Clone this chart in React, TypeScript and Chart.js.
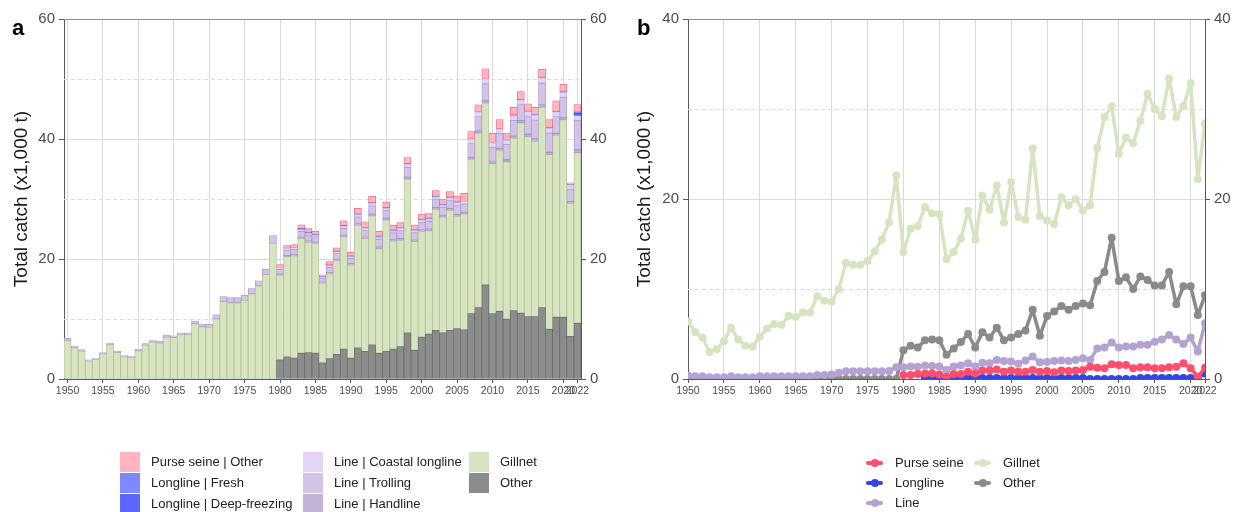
import React, { useEffect, useRef } from "react";
import { Chart, registerables } from "chart.js";

Chart.register(...registerables);

const FONT = "'Liberation Sans', Arial, Helvetica, sans-serif";
const GRID = "#dadada";
const AXIS = "#5a5a5a";
const TICK_TEXT = "#4d4d4d";

const years = [
  1950, 1951, 1952, 1953, 1954, 1955, 1956, 1957, 1958, 1959,
  1960, 1961, 1962, 1963, 1964, 1965, 1966, 1967, 1968, 1969,
  1970, 1971, 1972, 1973, 1974, 1975, 1976, 1977, 1978, 1979,
  1980, 1981, 1982, 1983, 1984, 1985, 1986, 1987, 1988, 1989,
  1990, 1991, 1992, 1993, 1994, 1995, 1996, 1997, 1998, 1999,
  2000, 2001, 2002, 2003, 2004, 2005, 2006, 2007, 2008, 2009,
  2010, 2011, 2012, 2013, 2014, 2015, 2016, 2017, 2018, 2019,
  2020, 2021, 2022,
];

const xTickYears = [1950, 1955, 1960, 1965, 1970, 1975, 1980, 1985, 1990, 1995, 2000, 2005, 2010, 2015, 2020, 2022];
const yTicksA = [0, 20, 40, 60];
const yMinorA = [10, 30, 50];
const yTicksB = [0, 20, 40];
const yMinorB = [10, 30];

const gillnet = [
  6.4, 5.2, 4.6, 3.0, 3.3, 4.2, 5.7, 4.4, 3.7, 3.6,
  4.7, 5.6, 6.1, 6.0, 7.0, 6.9, 7.4, 7.4, 9.2, 8.7,
  8.6, 10.0, 12.9, 12.7, 12.7, 13.1, 14.2, 15.5, 17.4, 22.6,
  14.1, 16.7, 17.0, 19.1, 18.4, 18.3, 13.3, 14.1, 15.6, 18.7,
  15.5, 20.4, 18.8, 21.5, 17.4, 21.9, 18.0, 17.7, 25.6, 18.1,
  17.6, 17.2, 20.2, 19.3, 20.0, 18.7, 19.3, 25.7, 29.1, 30.3,
  25.0, 26.8, 26.2, 28.7, 31.7, 30.0, 29.2, 33.4, 29.1, 30.3,
  32.9, 22.2, 28.4,
];

const other = [
  0, 0, 0, 0, 0, 0, 0, 0, 0, 0,
  0, 0, 0, 0, 0, 0, 0, 0, 0, 0,
  0, 0, 0, 0, 0, 0, 0, 0, 0, 0,
  3.2, 3.7, 3.5, 4.3, 4.4, 4.3, 2.7, 3.4, 4.1, 5.0,
  3.5, 5.2, 4.6, 5.7, 4.3, 4.6, 5.0, 5.4, 7.7, 4.8,
  7.0, 7.5, 8.1, 7.7, 8.1, 8.4, 8.2, 10.9, 11.9, 15.7,
  10.9, 11.3, 10.0, 11.4, 11.0, 10.4, 10.4, 11.9, 8.3, 10.3,
  10.3, 7.1, 9.3,
];

const lineHandline = [
  0, 0, 0, 0, 0, 0, 0, 0, 0, 0,
  0, 0, 0, 0, 0, 0, 0, 0, 0, 0,
  0, 0, 0, 0, 0, 0, 0, 0, 0, 0,
  0.2, 0.2, 0.2, 0.25, 0.2, 0.2, 0.15, 0.2, 0.2, 0.25,
  0.2, 0.25, 0.25, 0.3, 0.3, 0.3, 0.25, 0.3, 0.35, 0.25,
  0.25, 0.3, 0.3, 0.3, 0.3, 0.3, 0.3, 0.35, 0.35, 0.4,
  0.35, 0.35, 0.35, 0.4, 0.4, 0.4, 0.45, 0.45, 0.4, 0.35,
  0.4, 0.3, 0.5,
];

const lineTrolling = [
  0.4, 0.3, 0.3, 0.2, 0.2, 0.2, 0.3, 0.2, 0.2, 0.2,
  0.3, 0.3, 0.3, 0.3, 0.3, 0.3, 0.3, 0.3, 0.45, 0.45,
  0.5, 0.7, 0.85, 0.85, 0.85, 0.85, 0.85, 0.85, 0.9, 1.3,
  0.8, 0.9, 0.9, 0.95, 0.95, 0.9, 0.65, 0.9, 1.0, 1.15,
  0.9, 1.15, 1.1, 1.35, 1.3, 1.25, 1.1, 1.35, 1.65, 1.2,
  1.25, 1.3, 1.3, 1.3, 1.35, 1.5, 1.35, 2.3, 2.4, 2.8,
  2.4, 2.5, 2.55, 2.6, 2.65, 2.95, 3.1, 3.55, 3.2, 2.8,
  3.35, 1.95, 4.85,
];

const lineCoastal = [
  0, 0, 0, 0, 0, 0, 0, 0, 0, 0,
  0, 0, 0, 0, 0, 0, 0, 0, 0, 0,
  0, 0, 0, 0, 0, 0, 0, 0, 0, 0,
  0.3, 0.3, 0.25, 0.3, 0.3, 0.3, 0.2, 0.3, 0.3, 0.35,
  0.3, 0.4, 0.4, 0.45, 0.4, 0.4, 0.35, 0.4, 0.5, 0.4,
  0.4, 0.4, 0.45, 0.4, 0.45, 0.5, 0.45, 0.75, 0.75, 0.85,
  0.75, 0.75, 0.7, 0.8, 0.75, 0.8, 0.85, 0.9, 0.8, 0.75,
  0.85, 0.8, 0.85,
];

const longlineDeep = [
  null, null, null, null, null, null, null, null, null, null,
  null, null, null, null, null, null, null, null, null, null,
  null, null, null, null, null, null, null, null, null, null,
  null, null, null, 0, 0, 0, 0, 0, 0, 0,
  0, 0, 0, 0, 0, 0, 0, 0, 0, 0,
  0, 0, 0, 0, 0, 0, 0, 0, 0, 0,
  0, 0, 0, 0, 0, 0, 0, 0, 0, 0,
  0, 0, 0.4,
];

const longlineFresh = [
  null, null, null, null, null, null, null, null, null, null,
  null, null, null, null, null, null, null, null, null, null,
  null, null, null, null, null, null, null, null, null, null,
  null, null, null, 0.2, 0.2, 0.1, 0.1, 0.1, 0.1, 0.1,
  0.1, 0.1, 0.1, 0.1, 0.1, 0.1, 0.1, 0.1, 0.1, 0.1,
  0.1, 0.1, 0.1, 0.1, 0.1, 0.1, 0, 0, 0, 0,
  0, 0, 0, 0.1, 0.1, 0.1, 0.1, 0.1, 0.1, 0.1,
  0.1, 0.1, 0.2,
];

const purseSeine = [
  null, null, null, null, null, null, null, null, null, null,
  null, null, null, null, null, null, null, null, null, null,
  null, null, null, null, null, null, null, null, null, null,
  0.45, 0.45, 0.55, 0.6, 0.6, 0.5, 0.25, 0.55, 0.55, 0.8,
  0.6, 0.95, 0.95, 1.05, 0.8, 0.95, 0.8, 0.8, 1.0, 0.8,
  0.9, 0.75, 0.95, 0.9, 0.95, 1.0, 1.35, 1.25, 1.2, 1.65,
  1.55, 1.55, 1.2, 1.3, 1.3, 1.2, 1.2, 1.3, 1.35, 1.75,
  1.2, 0.25, 1.25,
];

const stackColors = {
  purse: { fill: "#ffb5bf", border: "#f0667f" },
  fresh: { fill: "#8088ff", border: "#5a64ee" },
  deep: { fill: "#5b68ff", border: "#3a46dd" },
  coastal: { fill: "#e3d5f5", border: "#c6b3e2" },
  trolling: { fill: "#d3c4e7", border: "#ab98cc" },
  handline: { fill: "#c3b3d9", border: "#9f8cc0" },
  gillnet: { fill: "#d7e4c0", border: "#b0bd9c" },
  other: { fill: "#8c8c8c", border: "#6c6c6c" },
};

const lineColors = {
  purse: "#ff4d6d",
  longline: "#3347e0",
  line: "#b3a3d3",
  gillnet: "#d7e4c1",
  other: "#8a8a8a",
};

const nz = (a: (number | null)[]) => a.map((v) => (v === 0 || v === null ? null : v));
const sumSeries = (...arrs: (number | null)[][]) =>
  arrs[0].map((_, i) => {
    let s = 0;
    let any = false;
    arrs.forEach((a) => {
      if (a[i] !== null && a[i] !== undefined) {
        s += a[i] as number;
        any = true;
      }
    });
    return any ? Math.round(s * 100) / 100 : null;
  });

const decoPlugin = {
  id: "deco",
  beforeDatasetsDraw(chart: any, _args: any, opts: any) {
    const { ctx, chartArea } = chart;
    const y = chart.scales.y;
    ctx.save();
    ctx.strokeStyle = GRID;
    ctx.lineWidth = 1;
    ctx.setLineDash([4, 3]);
    (opts.minor || []).forEach((v: number) => {
      const py = Math.round(y.getPixelForValue(v)) + 0.5;
      ctx.beginPath();
      ctx.moveTo(chartArea.left, py);
      ctx.lineTo(chartArea.right, py);
      ctx.stroke();
    });
    ctx.restore();
  },
  afterDatasetsDraw(chart: any) {
    const { ctx, chartArea } = chart;
    ctx.save();
    ctx.strokeStyle = "#8f8f8f";
    ctx.lineWidth = 1;
    ctx.beginPath();
    ctx.moveTo(chartArea.left, Math.round(chartArea.top) + 0.5);
    ctx.lineTo(chartArea.right, Math.round(chartArea.top) + 0.5);
    ctx.stroke();
    ctx.restore();
  },
};

const tickSet = new Set(xTickYears);

function yAxes(max: number, leftWidth: number, rightWidth: number, titlePad: number, ticks: number[], stacked: boolean) {
  const tickFont = { family: FONT, size: 15 };
  return {
    y: {
      type: "linear",
      position: "left",
      stacked,
      min: 0,
      max,
      afterBuildTicks: (s: any) => {
        s.ticks = ticks.map((v) => ({ value: v }));
      },
      ticks: { color: TICK_TEXT, font: tickFont, padding: 4 },
      grid: { color: GRID, lineWidth: 1, tickColor: AXIS, tickLength: 5 },
      border: { color: AXIS, width: 1 },
      title: {
        display: true,
        text: "Total catch (x1,000 t)",
        color: "#1a1a1a",
        font: { family: FONT, size: 19 },
        padding: { top: titlePad, bottom: 0 },
      },
      afterFit: (s: any) => {
        s.width = leftWidth;
      },
    },
    y2: {
      type: "linear",
      position: "right",
      min: 0,
      max,
      afterBuildTicks: (s: any) => {
        s.ticks = ticks.map((v) => ({ value: v }));
      },
      ticks: { color: TICK_TEXT, font: tickFont, padding: 4 },
      grid: { drawOnChartArea: false, tickColor: AXIS, tickLength: 5 },
      border: { color: AXIS, width: 1 },
      afterFit: (s: any) => {
        s.width = rightWidth;
      },
    },
  };
}

const xTickFont = { family: FONT, size: 10.5 };

export default function App() {
  const aRef = useRef<HTMLCanvasElement>(null);
  const bRef = useRef<HTMLCanvasElement>(null);

  useEffect(() => {
    const labels = years.map(String);
    const barDs = (label: string, data: (number | null)[], c: { fill: string; border: string }) => ({
      label,
      data: nz(data),
      backgroundColor: c.fill,
      borderColor: c.border,
      borderWidth: 0.8,
      borderSkipped: false,
      barPercentage: 1,
      categoryPercentage: 1,
    });

    const chartA = new Chart(aRef.current as HTMLCanvasElement, {
      type: "bar",
      data: {
        labels,
        datasets: [
          barDs("Other", other, stackColors.other),
          barDs("Gillnet", gillnet, stackColors.gillnet),
          barDs("Line | Handline", lineHandline, stackColors.handline),
          barDs("Line | Trolling", lineTrolling, stackColors.trolling),
          barDs("Line | Coastal longline", lineCoastal, stackColors.coastal),
          barDs("Longline | Deep-freezing", longlineDeep, stackColors.deep),
          barDs("Longline | Fresh", longlineFresh, stackColors.fresh),
          barDs("Purse seine | Other", purseSeine, stackColors.purse),
        ],
      } as any,
      options: {
        animation: false,
        responsive: false,
        maintainAspectRatio: false,
        layout: { padding: { top: 19, left: 0, right: 0, bottom: 0 } },
        plugins: {
          legend: { display: false },
          tooltip: { enabled: false },
          deco: { minor: yMinorA },
        } as any,
        scales: {
          x: {
            type: "category",
            stacked: true,
            offset: true,
            grid: {
              offset: false,
              lineWidth: 1,
              color: (c: any) => (tickSet.has(years[c.index]) ? GRID : "rgba(0,0,0,0)"),
              tickColor: (c: any) => (tickSet.has(years[c.index]) ? AXIS : "rgba(0,0,0,0)"),
              tickLength: 4,
            },
            border: { color: AXIS, width: 1 },
            ticks: {
              autoSkip: false,
              maxRotation: 0,
              minRotation: 0,
              padding: 2,
              color: TICK_TEXT,
              font: xTickFont,
              callback: (_v: any, i: number) => (tickSet.has(years[i]) ? String(years[i]) : ""),
            },
            afterFit: (s: any) => {
              s.height = 133;
            },
          },
          ...yAxes(60, 64, 35, 10.5, yTicksA, true),
        } as any,
      },
      plugins: [decoPlugin],
    } as any);

    const pts = (arr: (number | null)[]) => years.map((yr, i) => ({ x: yr, y: arr[i] }));
    const lineDs = (label: string, data: (number | null)[], color: string) => ({
      label,
      data: pts(data),
      borderColor: color,
      backgroundColor: color,
      borderWidth: 3.5,
      pointRadius: 4,
      pointBorderWidth: 0,
      pointBackgroundColor: color,
      borderJoinStyle: "round",
      borderCapStyle: "round",
      spanGaps: false,
      tension: 0,
    });

    const lineSum = sumSeries(lineHandline, lineTrolling, lineCoastal);
    const longlineSum = sumSeries(longlineDeep, longlineFresh);

    const chartB = new Chart(bRef.current as HTMLCanvasElement, {
      type: "line",
      data: {
        datasets: [
          lineDs("Purse seine", purseSeine, lineColors.purse),
          lineDs("Longline", longlineSum, lineColors.longline),
          lineDs("Line", lineSum, lineColors.line),
          lineDs("Other", other, lineColors.other),
          lineDs("Gillnet", gillnet, lineColors.gillnet),
        ],
      } as any,
      options: {
        animation: false,
        responsive: false,
        maintainAspectRatio: false,
        layout: { padding: { top: 19, left: 0, right: 0, bottom: 0 } },
        plugins: {
          legend: { display: false },
          tooltip: { enabled: false },
          deco: { minor: yMinorB },
        } as any,
        scales: {
          x: {
            type: "linear",
            min: 1950,
            max: 2022,
            afterBuildTicks: (s: any) => {
              s.ticks = xTickYears.map((v) => ({ value: v }));
            },
            grid: { color: GRID, lineWidth: 1, tickColor: AXIS, tickLength: 4 },
            border: { color: AXIS, width: 1 },
            ticks: {
              autoSkip: false,
              maxRotation: 0,
              minRotation: 0,
              padding: 2,
              color: TICK_TEXT,
              font: xTickFont,
              callback: (v: any) => String(v),
            },
            afterFit: (s: any) => {
              s.height = 133;
            },
          },
          ...yAxes(40, 72, 28, 17.5, yTicksB, false),
        } as any,
      },
      plugins: [decoPlugin],
    } as any);

    return () => {
      chartA.destroy();
      chartB.destroy();
    };
  }, []);

  const textStyle = (left: number, cy: number): React.CSSProperties => ({
    position: "absolute",
    left,
    top: cy - 8,
    height: 16,
    lineHeight: "16px",
    fontFamily: FONT,
    fontSize: 13,
    color: "#222",
    whiteSpace: "nowrap",
  });

  const legendA = [
    { label: "Purse seine | Other", c: stackColors.purse.fill, x: 120, tx: 151, cy: 462 },
    { label: "Longline | Fresh", c: stackColors.fresh.fill, x: 120, tx: 151, cy: 483 },
    { label: "Longline | Deep-freezing", c: stackColors.deep.fill, x: 120, tx: 151, cy: 504 },
    { label: "Line | Coastal longline", c: stackColors.coastal.fill, x: 303, tx: 334, cy: 462 },
    { label: "Line | Trolling", c: stackColors.trolling.fill, x: 303, tx: 334, cy: 483 },
    { label: "Line | Handline", c: stackColors.handline.fill, x: 303, tx: 334, cy: 504 },
    { label: "Gillnet", c: stackColors.gillnet.fill, x: 469, tx: 500, cy: 462 },
    { label: "Other", c: stackColors.other.fill, x: 469, tx: 500, cy: 483 },
  ];

  const legendB = [
    { label: "Purse seine", c: lineColors.purse, x: 866, tx: 895, cy: 463 },
    { label: "Longline", c: lineColors.longline, x: 866, tx: 895, cy: 483 },
    { label: "Line", c: lineColors.line, x: 866, tx: 895, cy: 503 },
    { label: "Gillnet", c: lineColors.gillnet, x: 974, tx: 1003, cy: 463 },
    { label: "Other", c: lineColors.other, x: 974, tx: 1003, cy: 483 },
  ];

  return (
    <div style={{ position: "absolute", left: 0, top: 0, width: 1233, height: 512, background: "#fff", overflow: "hidden" }}>
      <canvas
        ref={aRef}
        width={616}
        height={512}
        style={{ position: "absolute", left: 0, top: 0, width: 616, height: 512, display: "block" }}
      />
      <canvas
        ref={bRef}
        width={617}
        height={512}
        style={{ position: "absolute", left: 616, top: 0, width: 617, height: 512, display: "block" }}
      />
      <div style={{ position: "absolute", left: 12, top: 17, fontFamily: FONT, fontWeight: "bold", fontSize: 22, lineHeight: 1, color: "#000" }}>
        a
      </div>
      <div style={{ position: "absolute", left: 637, top: 17, fontFamily: FONT, fontWeight: "bold", fontSize: 22, lineHeight: 1, color: "#000" }}>
        b
      </div>
      {legendA.map((it) => (
        <React.Fragment key={it.label}>
          <div style={{ position: "absolute", left: it.x, top: it.cy - 10, width: 20, height: 20, background: it.c }} />
          <div style={textStyle(it.tx, it.cy)}>{it.label}</div>
        </React.Fragment>
      ))}
      {legendB.map((it) => (
        <React.Fragment key={it.label}>
          <div style={{ position: "absolute", left: it.x, top: it.cy - 2, width: 17, height: 4, background: it.c, borderRadius: 2 }} />
          <div style={{ position: "absolute", left: it.x + 4.5, top: it.cy - 4, width: 8, height: 8, background: it.c, borderRadius: "50%" }} />
          <div style={textStyle(it.tx, it.cy)}>{it.label}</div>
        </React.Fragment>
      ))}
    </div>
  );
}
